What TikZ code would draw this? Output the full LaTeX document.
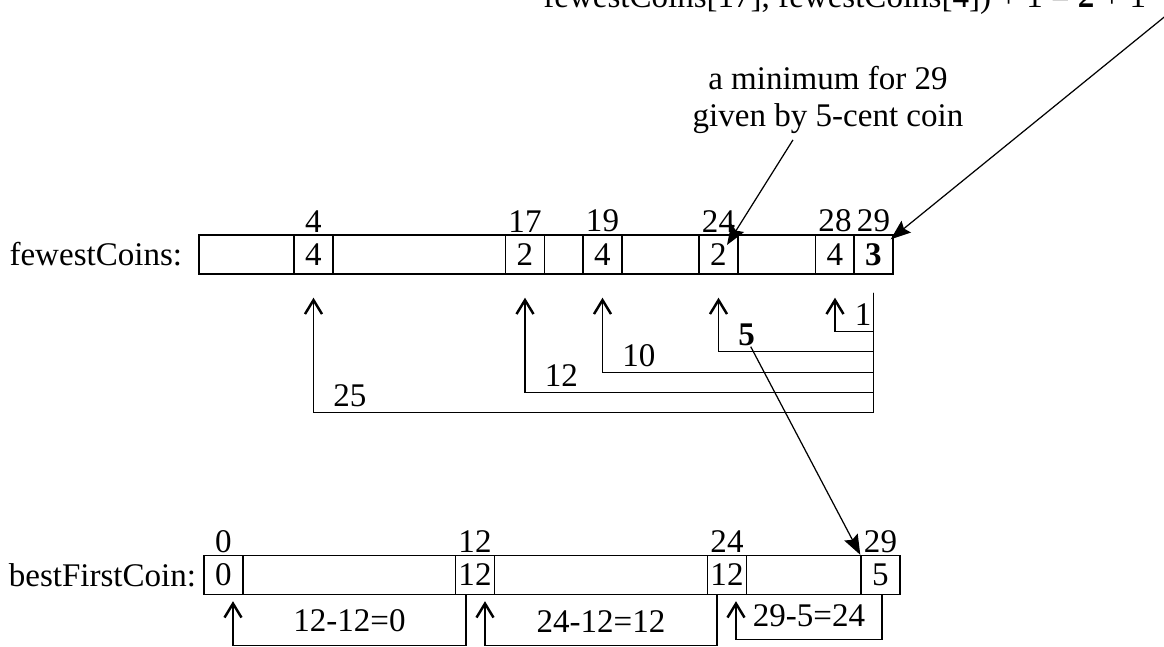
\documentclass[tikz,border=0pt]{standalone}
\usepackage{fontspec}
\setmainfont{Liberation Serif}
\usetikzlibrary{arrows.meta,positioning}

\begin{document}
\begin{tikzpicture}[
    font=\fontsize{18.8}{21}\selectfont,
    array/.style={draw, line width=0.8pt, minimum height=0.78cm, inner sep=0pt},
    cell/.style={draw, line width=0.8pt, minimum width=0.78cm, minimum height=0.78cm, inner sep=0pt},
    idx/.style={label={[inner sep=1pt]above:#1}},
    arr/.style={-{Straight Barb[length=0.28cm, width=0.34cm, line width=1.4pt]}, line width=0.8pt},
    ptr/.style={-{Stealth[length=0.4cm, width=0.3cm, inset=0.06cm]}, line width=0.7pt},
    lbl/.style={inner sep=3pt}
]
\useasboundingbox (0,0) rectangle (23.28,12.92);
\clip (0,0) rectangle (23.28,12.92);

\node[anchor=base west, inner sep=0pt] (sum) at (10.86,12.76) {fewestCoins[17], fewestCoins[4]) + 1 = \textbf{2} + 1};
\coordinate (from) at (24.0,13.16);

\node[array, minimum width=13.88cm] (fc) at (10.92,7.83) {};
\node[left=0.2cm of fc] (fcname) {fewestCoins:};
\node[cell, idx=4] (c4) at (6.27,7.83) {4};
\node[cell, idx=17] (c17) at (10.5,7.83) {2};
\node[cell, idx=19] (c19) at (12.05,7.83) {4};
\node[cell, idx=24] (c24) at (14.37,7.83) {2};
\node[cell, idx=28] (c28) at (16.7,7.83) {4};
\node[cell, idx=29] (c29) at (17.47,7.83) {\textbf{3}};

\node[array, minimum width=13.92cm] (bf) at (11.04,1.42) {};
\node[left=0.02cm of bf] (bfname) {bestFirstCoin:};
\node[cell, idx=0] (b0) at (4.47,1.42) {0};
\node[cell, idx=12] (b12) at (9.5,1.42) {12};
\node[cell, idx=24] (b24) at (14.54,1.42) {12};
\node[cell, idx=29] (b29) at (17.61,1.42) {5};

\node[align=center] (note) at (16.56,10.92) {a minimum for 29\\given by 5-cent coin};
\draw[ptr] ([xshift=-0.7cm]note.south) -- ([xshift=0.17cm,yshift=0.19cm]c24.center);
\draw[ptr] (from) -- ([xshift=-0.06cm,yshift=-0.1cm]c29.north east);

\coordinate (src) at ([yshift=-0.36cm]c29.south);
\draw[arr] (src) |- ([yshift=-1.14cm]c28.south) node[lbl, above right, xshift=0.28cm] (d1) {1} -- ([yshift=-0.46cm]c28.south);
\draw[arr] (src) |- ([yshift=-1.54cm]c24.south) node[lbl, above right, xshift=0.28cm] (d5) {\textbf{5}} -- ([yshift=-0.46cm]c24.south);
\draw[arr] (src) |- ([yshift=-1.96cm]c19.south) node[lbl, above right, xshift=0.28cm] (d10) {10} -- ([yshift=-0.46cm]c19.south);
\draw[arr] (src) |- ([yshift=-2.36cm]c17.south) node[lbl, above right, xshift=0.28cm] (d12) {12} -- ([yshift=-0.46cm]c17.south);
\draw[arr] (src) |- ([yshift=-2.76cm]c4.south) node[lbl, above right, xshift=0.28cm] (d25) {25} -- ([yshift=-0.46cm]c4.south);
\draw[ptr] ([shift={(0.08,0.1)}]d5.south) -- (b29.north west);

\draw[arr] ([xshift=-0.18cm]b12.south) -- ++(0,-1.0) -| node[lbl, pos=0.25, above=4pt] {12-12=0} ([xshift=0.19cm,yshift=-0.12cm]b0.south);
\draw[arr] ([xshift=-0.2cm]b24.south) -- ++(0,-1.0) -| node[lbl, pos=0.25, above=4pt] {24-12=12} ([xshift=0.2cm,yshift=-0.12cm]b12.south);
\draw[arr] ([xshift=0.03cm]b29.south) -- ++(0,-0.89) -| node[lbl, pos=0.25, above=4pt] {29-5=24} ([xshift=0.18cm,yshift=-0.12cm]b24.south);
\end{tikzpicture}
\end{document}
